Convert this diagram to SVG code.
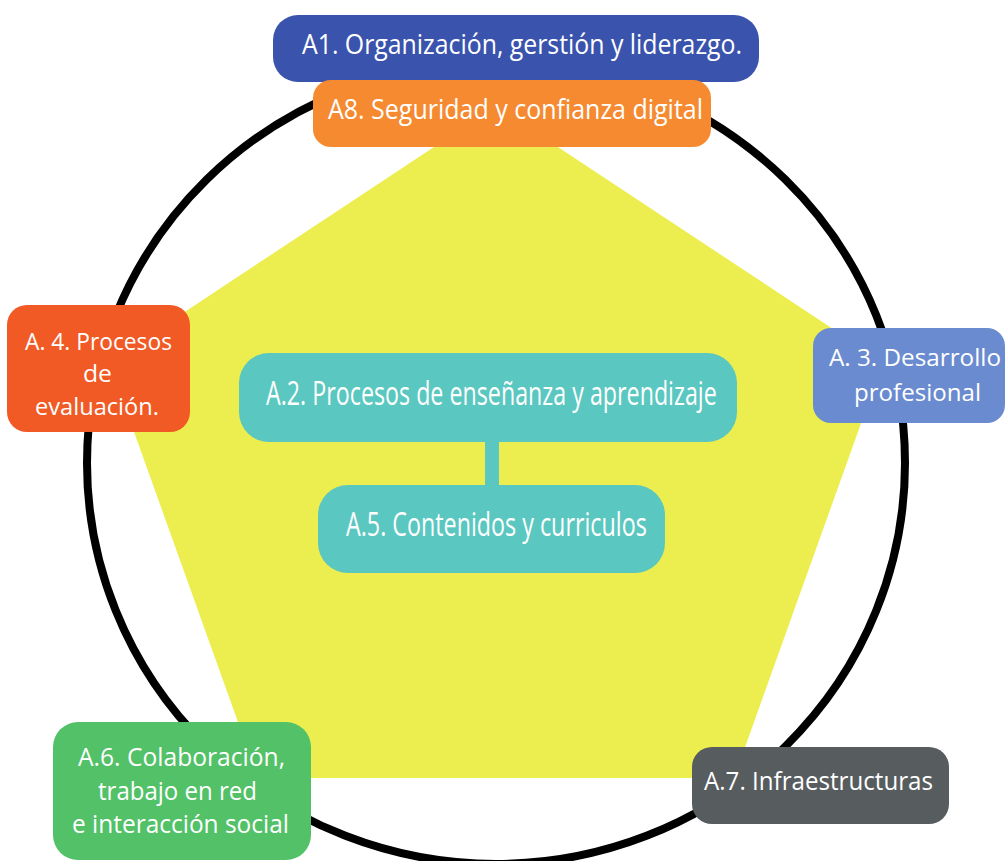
<svg xmlns="http://www.w3.org/2000/svg" width="1006" height="861" viewBox="0 0 1006 861">
<style>
  .t { font-family: "Open Sans", "Noto Sans", sans-serif; fill: #ffffff; }
  .f27 { font-size: 27px; }
  .f24 { font-size: 24px; }
  .f23 { font-size: 23px; }
  .f25 { font-size: 25px; }
  .f32 { font-size: 32px; }
</style>
<rect x="0" y="0" width="1006" height="861" fill="#ffffff"/>
<g id="background">
  <polygon points="496,106 883,362 734,778 258,778 109,362" fill="#ECEE4F"/>
  <ellipse cx="496" cy="463" rx="409" ry="401" fill="none" stroke="#000000" stroke-width="8"/>
</g>
<g id="connectors">
  <line x1="492" y1="440" x2="492" y2="487" stroke="#5AC7C0" stroke-width="14"/>
</g>
<g id="A1">
  <rect x="273" y="15" width="486" height="67" rx="25" fill="#3A53AD"/>
  <text class="t f27" x="302" y="54" textLength="440" lengthAdjust="spacingAndGlyphs">A1. Organización, gerstión y liderazgo.</text>
</g>
<g id="A8">
  <rect x="313" y="80" width="398" height="67" rx="18" fill="#F58A31"/>
  <text class="t f27" x="328" y="119" textLength="375" lengthAdjust="spacingAndGlyphs">A8. Seguridad y confianza digital</text>
</g>
<g id="A4">
  <rect x="7" y="305" width="183" height="127" rx="20" fill="#F15A24"/>
  <text class="t f24" x="25" y="350" textLength="147" lengthAdjust="spacingAndGlyphs">A. 4. Procesos</text>
  <text class="t f24" x="83" y="382" textLength="29" lengthAdjust="spacingAndGlyphs">de</text>
  <text class="t f24" x="35" y="415" textLength="124" lengthAdjust="spacingAndGlyphs">evaluación.</text>
</g>
<g id="A3">
  <rect x="813" y="328" width="192" height="95" rx="18" fill="#6A8BCF"/>
  <text class="t f23" x="829" y="366" textLength="172" lengthAdjust="spacingAndGlyphs">A. 3. Desarrollo</text>
  <text class="t f23" x="854" y="401" textLength="127" lengthAdjust="spacingAndGlyphs">profesional</text>
</g>
<g id="A2">
  <rect x="239" y="353" width="498" height="89" rx="30" fill="#5AC7C0"/>
  <text class="t f32" transform="translate(266,405) scale(0.75,1)" x="0" y="0" textLength="601" lengthAdjust="spacingAndGlyphs">A.2. Procesos de enseñanza y aprendizaje</text>
</g>
<g id="A5">
  <rect x="318" y="485" width="347" height="88" rx="30" fill="#5AC7C0"/>
  <text class="t f32" transform="translate(346,536) scale(0.75,1)" x="0" y="0" textLength="401" lengthAdjust="spacingAndGlyphs">A.5. Contenidos y curriculos</text>
</g>
<g id="A6">
  <rect x="53" y="722" width="258" height="138" rx="25" fill="#52C167"/>
  <text class="t f25" x="78" y="766" textLength="207" lengthAdjust="spacingAndGlyphs">A.6. Colaboración,</text>
  <text class="t f25" x="98" y="800" textLength="159" lengthAdjust="spacingAndGlyphs">trabajo en red</text>
  <text class="t f25" x="72" y="833" textLength="217" lengthAdjust="spacingAndGlyphs">e interacción social</text>
</g>
<g id="A7">
  <rect x="692" y="747" width="257" height="77" rx="20" fill="#575C5F"/>
  <text class="t f25" x="704" y="790" textLength="229" lengthAdjust="spacingAndGlyphs">A.7. Infraestructuras</text>
</g>
</svg>
